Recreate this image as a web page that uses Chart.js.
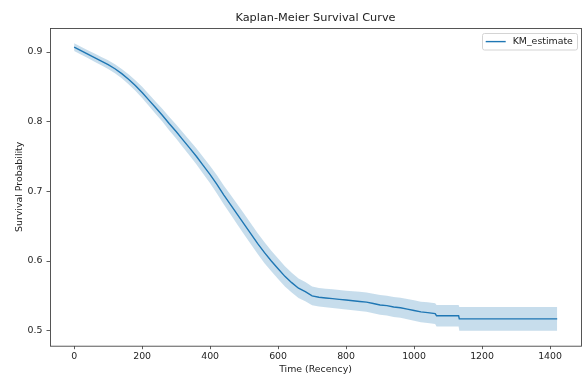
<!DOCTYPE html>
<html>
<head>
<meta charset="utf-8">
<script src="https://cdn.jsdelivr.net/npm/chart.js@4/dist/chart.umd.min.js"></script>
<style>
  html, body { margin: 0; padding: 0; background: #ffffff; }
  #wrap { width: 582px; height: 374px; }
</style>
</head>
<body>
<div id="wrap"><canvas id="c" width="582" height="374"></canvas></div>
<script>
// ---- data ----
const chartTitle = "Kaplan-Meier Survival Curve";
const seriesName = "KM_estimate";
const xAxisLabel = "Time (Recency)";
const yAxisLabel = "Survival Probability";

const times = [
  0, 20, 40, 60, 80, 100, 120, 140, 160, 180,
  200, 220, 240, 260, 280, 300, 320, 340, 360, 380,
  400, 420, 440, 460, 480, 500, 520, 540, 560, 580,
  600, 620, 640, 660, 680, 700, 720, 740, 760, 780,
  800, 820, 840, 860, 880, 900, 920, 940, 960, 980,
  1000, 1020, 1040, 1062, 1066, 1131, 1133, 1421
];
const survival = [
  0.907, 0.902, 0.897, 0.892, 0.887, 0.882, 0.876, 0.869, 0.861, 0.852,
  0.842, 0.831, 0.820, 0.809, 0.797, 0.786, 0.774, 0.762, 0.750, 0.737,
  0.724, 0.710, 0.695, 0.681, 0.667, 0.653, 0.639, 0.625, 0.612, 0.600,
  0.589, 0.578, 0.569, 0.561, 0.556, 0.550, 0.548, 0.547, 0.546, 0.545,
  0.544, 0.543, 0.542, 0.541, 0.539, 0.537, 0.536, 0.534, 0.533, 0.531,
  0.529, 0.527, 0.526, 0.5245, 0.5215, 0.5215, 0.517, 0.517
];
const ciHalfWidth = [
  0.0055, 0.0056, 0.0057, 0.0058, 0.0060, 0.0062, 0.0065, 0.0068, 0.0072, 0.0076,
  0.0080, 0.0084, 0.0088, 0.0092, 0.0096, 0.0100, 0.0105, 0.0110, 0.0115, 0.0120,
  0.0125, 0.0130, 0.0135, 0.0140, 0.0145, 0.0150, 0.0150, 0.0150, 0.0150, 0.0148,
  0.0146, 0.0144, 0.0142, 0.0140, 0.0138, 0.0135, 0.0134, 0.0134, 0.0134, 0.0134,
  0.0135, 0.0137, 0.0138, 0.0139, 0.0140, 0.0141, 0.0142, 0.0143, 0.0144, 0.0145,
  0.0146, 0.0147, 0.0148, 0.0149, 0.0155, 0.0155, 0.0170, 0.0170
];
const xTicks = [0, 200, 400, 600, 800, 1000, 1200, 1400];
const yTicks = [0.5, 0.6, 0.7, 0.8, 0.9];
const xRange = [-71, 1491];
const yRange = [0.4785, 0.9345];

// ---- build library tables ----
const linePts = times.map((t, i) => ({ x: t, y: survival[i] }));
const lowerPts = times.map((t, i) => ({ x: t, y: survival[i] - ciHalfWidth[i] }));
const upperPts = times.map((t, i) => ({ x: t, y: survival[i] + ciHalfWidth[i] }));

const BLUE = '#1f77b4';
const FONT = 'DejaVu Sans';
const TXT = '#222222';

const decorPlugin = {
  id: 'decor',
  afterDatasetsDraw(chart) {
    const { ctx, chartArea: a } = chart;
    ctx.save();
    // frame (spines)
    ctx.strokeStyle = '#444444';
    ctx.lineWidth = 0.9;
    ctx.strokeRect(a.left + 0.5, a.top + 0.5, a.right - a.left, a.bottom - a.top);
    // title
    ctx.fillStyle = TXT;
    ctx.font = '11.3px "' + FONT + '"';
    ctx.textAlign = 'center';
    ctx.textBaseline = 'middle';
    ctx.fillText(chartTitle, (a.left + a.right) / 2, 17.8);
    // legend
    const bx = 482.5, by = 33.5, bw = 95, bh = 16.5;
    ctx.beginPath();
    if (ctx.roundRect) ctx.roundRect(bx, by, bw, bh, 2); else ctx.rect(bx, by, bw, bh);
    ctx.fillStyle = 'rgba(255,255,255,0.85)';
    ctx.fill();
    ctx.strokeStyle = '#d4d4d4';
    ctx.lineWidth = 1;
    ctx.stroke();
    ctx.beginPath();
    ctx.moveTo(485.7, 41.6);
    ctx.lineTo(505.7, 41.6);
    ctx.strokeStyle = BLUE;
    ctx.lineWidth = 1.4;
    ctx.stroke();
    ctx.fillStyle = TXT;
    ctx.font = '9.4px "' + FONT + '"';
    ctx.textAlign = 'left';
    ctx.textBaseline = 'middle';
    ctx.fillText(seriesName, 512.7, 41.8);
    ctx.restore();
  }
};

new Chart(document.getElementById('c'), {
  type: 'line',
  data: {
    datasets: [
      { label: seriesName, data: linePts, borderColor: BLUE, borderWidth: 1.4,
        pointRadius: 0, fill: false, tension: 0 },
      { label: 'lower', data: lowerPts, borderWidth: 0, borderColor: 'rgba(0,0,0,0)',
        pointRadius: 0, fill: false, tension: 0 },
      { label: 'upper', data: upperPts, borderWidth: 0, borderColor: 'rgba(0,0,0,0)',
        pointRadius: 0, fill: '-1', backgroundColor: 'rgba(31,119,180,0.25)', tension: 0 }
    ]
  },
  options: {
    responsive: false,
    animation: false,
    devicePixelRatio: 1,
    layout: { padding: { top: 28, right: 1, left: 0, bottom: 0 } },
    plugins: { legend: { display: false }, title: { display: false }, tooltip: { enabled: false } },
    scales: {
      x: {
        type: 'linear',
        min: xRange[0], max: xRange[1],
        afterBuildTicks(s) { s.ticks = xTicks.map(v => ({ value: v })); },
        afterFit(s) { s.height = 28.3; },
        grid: { drawOnChartArea: false, drawTicks: true, tickLength: 3.5, color: '#333333', lineWidth: 0.8 },
        border: { display: false },
        ticks: { color: TXT, font: { family: FONT, size: 9.4 }, padding: 2, maxRotation: 0,
                 callback: v => String(v) },
        title: { display: true, text: xAxisLabel, color: TXT, font: { family: FONT, size: 9.4 },
                 padding: { top: 0, bottom: -1.5 } }
      },
      y: {
        type: 'linear',
        min: yRange[0], max: yRange[1],
        afterBuildTicks(s) { s.ticks = yTicks.map(v => ({ value: v })); },
        afterFit(s) { s.width = 50; },
        grid: { drawOnChartArea: false, drawTicks: true, tickLength: 3.5, color: '#333333', lineWidth: 0.8 },
        border: { display: false },
        ticks: { color: TXT, font: { family: FONT, size: 9.4 }, padding: 4,
                 callback: v => v.toFixed(1) },
        title: { display: true, text: yAxisLabel, color: TXT, font: { family: FONT, size: 9.4 },
                 padding: { top: 13.5, bottom: 0 } }
      }
    }
  },
  plugins: [decorPlugin]
});
</script>
</body>
</html>
